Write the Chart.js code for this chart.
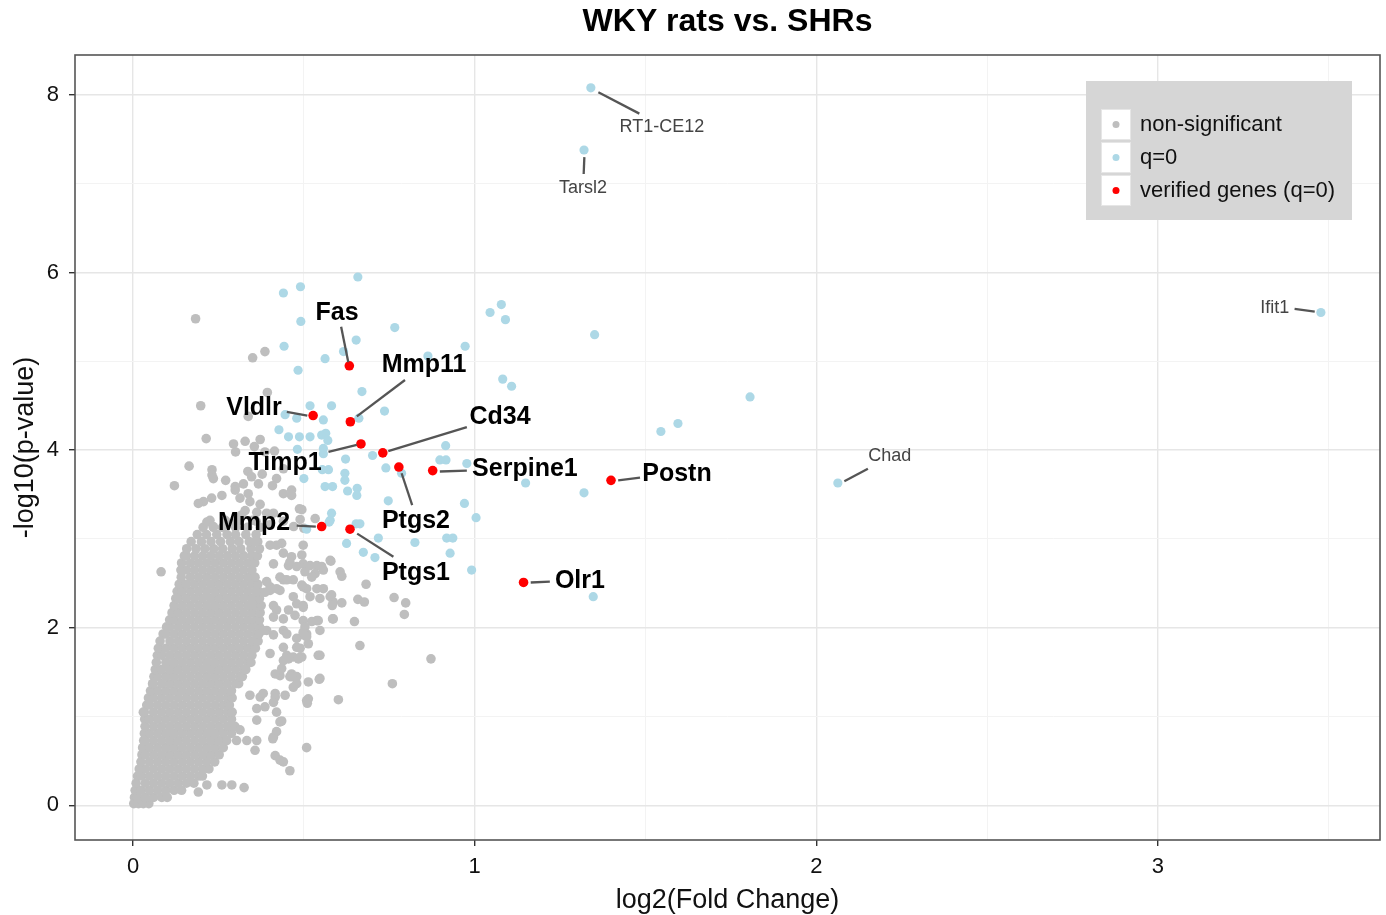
<!DOCTYPE html>
<html>
<head>
<meta charset="utf-8">
<script src="https://cdn.jsdelivr.net/npm/chart.js"></script>
<style>
  body { margin: 0; background: #fff; }
</style>
</head>
<body>
<canvas id="chart" width="1386" height="915"></canvas>
<script>
// ---- data ----
// dense grey core: each row is [y, x, x, x ...]
const nsCoreRows = [
  [0.02, 0.002, 0.016, 0.030, 0.046],
  [0.09, 0.004, 0.012, 0.036, 0.060, 0.084, 0.100],
  [0.17, 0.006, 0.024, 0.048, 0.072, 0.096, 0.120, 0.142],
  [0.25, 0.009, 0.036, 0.060, 0.084, 0.108, 0.132, 0.156, 0.178],
  [0.33, 0.013, 0.024, 0.048, 0.072, 0.096, 0.120, 0.144, 0.168, 0.192, 0.203],
  [0.41, 0.018, 0.036, 0.060, 0.084, 0.108, 0.132, 0.156, 0.180, 0.204, 0.222],
  [0.49, 0.023, 0.048, 0.072, 0.096, 0.120, 0.144, 0.168, 0.192, 0.216, 0.239],
  [0.57, 0.026, 0.036, 0.060, 0.084, 0.108, 0.132, 0.156, 0.180, 0.204, 0.228, 0.252],
  [0.65, 0.028, 0.048, 0.072, 0.096, 0.120, 0.144, 0.168, 0.192, 0.216, 0.240, 0.264],
  [0.73, 0.031, 0.036, 0.060, 0.084, 0.108, 0.132, 0.156, 0.180, 0.204, 0.228, 0.252, 0.274],
  [0.81, 0.033, 0.048, 0.072, 0.096, 0.120, 0.144, 0.168, 0.192, 0.216, 0.240, 0.264, 0.288],
  [0.89, 0.035, 0.060, 0.084, 0.108, 0.132, 0.156, 0.180, 0.204, 0.228, 0.252, 0.276, 0.298],
  [0.97, 0.034, 0.048, 0.072, 0.096, 0.120, 0.144, 0.168, 0.192, 0.216, 0.240, 0.264, 0.288],
  [1.05, 0.033, 0.060, 0.084, 0.108, 0.132, 0.156, 0.180, 0.204, 0.228, 0.252, 0.276, 0.290],
  [1.13, 0.040, 0.048, 0.072, 0.096, 0.120, 0.144, 0.168, 0.192, 0.216, 0.240, 0.264, 0.282],
  [1.21, 0.045, 0.060, 0.084, 0.108, 0.132, 0.156, 0.180, 0.204, 0.228, 0.252, 0.276, 0.290],
  [1.29, 0.051, 0.072, 0.096, 0.120, 0.144, 0.168, 0.192, 0.216, 0.240, 0.264, 0.288],
  [1.37, 0.057, 0.084, 0.108, 0.132, 0.156, 0.180, 0.204, 0.228, 0.252, 0.276, 0.300, 0.309],
  [1.45, 0.061, 0.072, 0.096, 0.120, 0.144, 0.168, 0.192, 0.216, 0.240, 0.264, 0.288, 0.312, 0.320],
  [1.53, 0.065, 0.084, 0.108, 0.132, 0.156, 0.180, 0.204, 0.228, 0.252, 0.276, 0.300, 0.324, 0.330],
  [1.61, 0.068, 0.096, 0.120, 0.144, 0.168, 0.192, 0.216, 0.240, 0.264, 0.288, 0.312, 0.336, 0.345],
  [1.69, 0.071, 0.084, 0.108, 0.132, 0.156, 0.180, 0.204, 0.228, 0.252, 0.276, 0.300, 0.324, 0.348],
  [1.77, 0.074, 0.096, 0.120, 0.144, 0.168, 0.192, 0.216, 0.240, 0.264, 0.288, 0.312, 0.336, 0.358],
  [1.85, 0.079, 0.108, 0.132, 0.156, 0.180, 0.204, 0.228, 0.252, 0.276, 0.300, 0.324, 0.348, 0.366],
  [1.93, 0.088, 0.096, 0.120, 0.144, 0.168, 0.192, 0.216, 0.240, 0.264, 0.288, 0.312, 0.336, 0.360, 0.368],
  [2.01, 0.098, 0.108, 0.132, 0.156, 0.180, 0.204, 0.228, 0.252, 0.276, 0.300, 0.324, 0.348, 0.370],
  [2.09, 0.107, 0.120, 0.144, 0.168, 0.192, 0.216, 0.240, 0.264, 0.288, 0.312, 0.336, 0.360, 0.370],
  [2.17, 0.114, 0.132, 0.156, 0.180, 0.204, 0.228, 0.252, 0.276, 0.300, 0.324, 0.348, 0.372],
  [2.25, 0.120, 0.144, 0.168, 0.192, 0.216, 0.240, 0.264, 0.288, 0.312, 0.336, 0.360, 0.375],
  [2.33, 0.125, 0.132, 0.156, 0.180, 0.204, 0.228, 0.252, 0.276, 0.300, 0.324, 0.348, 0.370],
  [2.41, 0.129, 0.144, 0.168, 0.192, 0.216, 0.240, 0.264, 0.288, 0.312, 0.336, 0.360, 0.368],
  [2.49, 0.135, 0.156, 0.180, 0.204, 0.228, 0.252, 0.276, 0.300, 0.324, 0.348, 0.365],
  [2.57, 0.141, 0.168, 0.192, 0.216, 0.240, 0.264, 0.288, 0.312, 0.336, 0.357],
  [2.65, 0.140, 0.156, 0.180, 0.204, 0.228, 0.252, 0.276, 0.300, 0.324, 0.348],
  [2.73, 0.142, 0.168, 0.192, 0.216, 0.240, 0.264, 0.288, 0.312, 0.336, 0.356],
  [2.81, 0.150, 0.156, 0.180, 0.204, 0.228, 0.252, 0.276, 0.300, 0.324, 0.348, 0.364],
  [2.89, 0.157, 0.184, 0.210, 0.236, 0.262, 0.290, 0.315, 0.345, 0.370],
  [2.97, 0.170, 0.200, 0.228, 0.256, 0.285, 0.310, 0.340, 0.365],
  [3.05, 0.188, 0.215, 0.245, 0.275, 0.300, 0.330, 0.360],
  [3.13, 0.205, 0.235, 0.262, 0.300, 0.335, 0.372],
  [3.21, 0.225, 0.270, 0.310, 0.350]
];

// grey points scattered around the core
const nsScatter = [
  [0.183,5.48],[0.350,5.04],[0.386,5.11],[0.393,4.65],[0.198,4.50],[0.337,4.38],
  [0.214,4.13],[0.294,4.07],[0.328,4.10],[0.372,4.12],[0.355,4.04],[0.300,3.98],[0.386,3.98],[0.414,3.99],
  [0.164,3.82],[0.121,3.60],[0.231,3.78],[0.231,3.72],[0.235,3.68],[0.271,3.66],[0.336,3.76],[0.347,3.70],
  [0.378,3.73],[0.367,3.62],[0.323,3.62],[0.420,3.68],[0.408,3.60],[0.440,3.79],
  [0.299,3.59],[0.299,3.55],[0.313,3.46],[0.260,3.49],[0.230,3.46],[0.206,3.42],[0.191,3.40],[0.337,3.51],
  [0.342,3.42],[0.372,3.39],[0.440,3.51],[0.464,3.55],[0.464,3.49],[0.487,3.34],[0.411,3.29],[0.391,3.29],
  [0.362,3.30],[0.328,3.32],[0.318,3.27],[0.489,3.22],[0.216,3.19],[0.235,3.14],[0.533,3.23],[0.494,3.33],
  [0.270,3.20],[0.300,3.18],[0.360,3.20],[0.400,3.16],[0.440,3.20],[0.470,3.14],[0.500,3.12],
  [0.357,2.97],[0.401,2.93],[0.435,2.95],[0.498,2.93],[0.440,2.84],[0.464,2.80],[0.494,2.82],[0.498,2.72],
  [0.455,2.70],[0.538,2.70],[0.577,2.76],[0.533,2.61],[0.557,2.65],[0.440,2.54],[0.469,2.54],[0.401,2.46],
  [0.386,2.40],[0.430,2.42],[0.498,2.46],[0.538,2.44],[0.518,2.35],[0.547,2.33],[0.577,2.35],[0.586,2.29],
  [0.479,2.27],[0.498,2.25],[0.455,2.20],[0.474,2.14],[0.440,2.10],[0.498,2.08],[0.538,2.08],[0.586,2.10],
  [0.391,1.97],[0.440,1.97],[0.498,1.92],[0.547,1.97],[0.513,1.82],[0.479,1.78],[0.489,1.67],[0.440,1.63],
  [0.464,1.48],[0.430,1.46],[0.542,1.69],[0.513,1.39],[0.469,1.33],[0.372,1.22],
  [0.420,2.93],[0.411,2.72],[0.459,2.74],[0.479,2.69],[0.508,2.69],[0.430,2.57],[0.450,2.54],[0.391,2.52],
  [0.401,2.42],[0.420,2.44],[0.469,2.35],[0.498,2.23],[0.508,2.44],[0.494,2.48],[0.411,2.25],[0.420,2.20],
  [0.411,2.12],[0.450,1.93],[0.479,1.88],[0.489,1.77],[0.508,1.93],[0.440,1.78],[0.411,1.92],[0.381,1.97],
  [0.401,1.71],[0.450,1.69],[0.469,1.67],[0.494,1.67],
  [0.579,2.75],[0.552,2.69],[0.518,2.70],[0.503,2.63],[0.523,2.57],[0.606,2.63],[0.611,2.58],[0.682,2.49],
  [0.557,2.44],[0.581,2.37],[0.583,2.25],[0.658,2.32],[0.677,2.29],[0.611,2.28],[0.764,2.34],[0.798,2.28],
  [0.794,2.15],[0.648,2.07],[0.584,2.10],[0.542,2.08],[0.523,2.07],[0.503,2.01],[0.498,1.95],[0.508,1.90],
  [0.664,1.80],[0.872,1.65],[0.547,1.69],[0.484,1.65],[0.455,1.65],[0.513,1.20],[0.547,1.43],[0.479,1.45],
  [0.459,1.45],[0.416,1.48],[0.416,1.22],[0.082,2.63],[0.059,1.37],[0.030,1.05],
  [0.260,0.23],[0.289,0.23],[0.325,0.20],[0.191,0.15],[0.216,0.23],[0.459,0.39],[0.440,0.49],[0.416,0.56],
  [0.357,0.62],[0.333,0.73],[0.362,0.73],[0.411,0.77],[0.420,0.83],[0.430,0.94],[0.420,1.05],[0.411,1.16],
  [0.416,1.26],[0.445,1.24],[0.508,0.65],[0.508,1.18],[0.479,1.37],[0.464,1.45],[0.435,1.54],[0.362,0.96],
  [0.362,1.09],[0.303,0.73],[0.313,0.85],[0.342,1.24],[0.381,1.26],[0.386,1.11],[0.510,1.15],[0.545,1.42],
  [0.430,0.51],[0.409,0.75],[0.435,0.95],[0.601,1.19],[0.759,1.37]
];

// q = 0 (light blue)
const qZero = [
  [1.340,8.08],[1.320,7.38],[3.477,5.55],[2.063,3.63],[1.806,4.60],[1.545,4.21],[1.595,4.30],[1.351,5.30],
  [1.320,3.52],[1.347,2.35],[1.149,3.63],[1.045,5.55],[1.078,5.64],[1.090,5.47],[1.082,4.80],[1.108,4.72],
  [0.972,5.17],[0.658,5.95],[0.490,5.84],[0.440,5.77],[0.491,5.45],[0.766,5.38],[0.653,5.24],[0.442,5.17],
  [0.616,5.11],[0.562,5.03],[0.863,5.06],[0.483,4.90],[0.670,4.66],[0.518,4.50],[0.581,4.50],[0.736,4.44],
  [0.661,4.36],[0.445,4.40],[0.479,4.36],[0.557,4.34],[0.427,4.23],[0.455,4.15],[0.487,4.15],[0.518,4.15],
  [0.552,4.17],[0.564,4.19],[0.570,4.11],[0.557,4.02],[0.481,4.01],[0.557,3.96],[0.622,3.90],[0.701,3.94],
  [0.740,3.80],[0.786,3.74],[0.915,4.05],[0.898,3.89],[0.916,3.89],[0.977,3.85],[0.554,3.78],[0.572,3.78],
  [0.500,3.68],[0.620,3.74],[0.620,3.66],[0.562,3.59],[0.584,3.59],[0.656,3.57],[0.655,3.49],[0.628,3.54],
  [0.747,3.43],[0.970,3.40],[1.004,3.24],[0.581,3.29],[0.577,3.21],[0.508,3.11],[0.653,3.17],[0.664,3.17],
  [0.574,3.19],[0.625,2.95],[0.718,3.01],[0.825,2.96],[0.918,3.01],[0.936,3.01],[0.928,2.84],[0.674,2.85],
  [0.708,2.79],[0.991,2.65]
];

// verified genes (q = 0), red
const verifiedNames = ['Fas', 'Mmp11', 'Vldlr', 'Timp1', 'Cd34', 'Ptgs2', 'Serpine1', 'Mmp2', 'Ptgs1', 'Postn', 'Olr1'];
const verifiedX = [0.633, 0.636, 0.527, 0.667, 0.731, 0.778, 0.877, 0.552, 0.635, 1.399, 1.143];
const verifiedY = [4.95, 4.32, 4.39, 4.07, 3.97, 3.81, 3.77, 3.14, 3.11, 3.66, 2.51];

const xTickLabels = [0, 1, 2, 3];
const yTickLabels = [0, 2, 4, 6, 8];
const legendLabels = ['non-significant', 'q=0', 'verified genes (q=0)'];

// repelled labels: text centre and connector, in data units
const labelSpots = [
  {text: 'Fas',      at: [0.597, 5.54], seg: [[0.609, 5.39], [0.630, 4.99]], big: true},
  {text: 'Mmp11',    at: [0.852, 4.96], seg: [[0.796, 4.79], [0.655, 4.38]], big: true},
  {text: 'Vldlr',    at: [0.354, 4.47], seg: [[0.450, 4.43], [0.510, 4.39]], big: true},
  {text: 'Cd34',     at: [1.074, 4.37], seg: [[0.977, 4.26], [0.747, 3.99]], big: true},
  {text: 'Timp1',    at: [0.445, 3.85], seg: [[0.572, 3.98], [0.655, 4.06]], big: true},
  {text: 'Serpine1', at: [1.147, 3.79], seg: [[0.898, 3.76], [0.977, 3.77]], big: true},
  {text: 'Ptgs2',    at: [0.828, 3.20], seg: [[0.786, 3.74], [0.817, 3.38]], big: true},
  {text: 'Mmp2',     at: [0.354, 3.18], seg: [[0.479, 3.15], [0.535, 3.14]], big: true},
  {text: 'Ptgs1',    at: [0.828, 2.61], seg: [[0.656, 3.06], [0.762, 2.80]], big: true},
  {text: 'Postn',    at: [1.592, 3.73], seg: [[1.420, 3.66], [1.484, 3.69]], big: true},
  {text: 'Olr1',     at: [1.308, 2.52], seg: [[1.164, 2.51], [1.220, 2.52]], big: true},
  {text: 'RT1-CE12', at: [1.548, 7.64], seg: [[1.362, 8.03], [1.482, 7.79]]},
  {text: 'Tarsl2',   at: [1.317, 6.95], seg: [[1.321, 7.30], [1.319, 7.11]]},
  {text: 'Ifit1',    at: [3.342, 5.60], seg: [[3.400, 5.59], [3.459, 5.56]]},
  {text: 'Chad',     at: [2.215, 3.93], seg: [[2.082, 3.65], [2.151, 3.79]]}
];

// ---- build datasets ----
const greyPts = [];
nsCoreRows.forEach(function(row) {
  for (let i = 1; i < row.length; i++) greyPts.push({x: row[i], y: row[0]});
});
nsScatter.forEach(function(p) { greyPts.push({x: p[0], y: p[1]}); });
const bluePts = qZero.map(function(p) { return {x: p[0], y: p[1]}; });
const redPts = verifiedX.map(function(x, i) { return {x: x, y: verifiedY[i]}; });

const FONT = "'Liberation Sans', Arial, sans-serif";
const GREY = '#BEBEBE', BLUE = '#ADD8E6', RED = '#FF0000';

const decorPlugin = {
  id: 'decor',
  afterDatasetsDraw(chart) {
    const ctx = chart.ctx, xs = chart.scales.x, ys = chart.scales.y, a = chart.chartArea;
    ctx.save();
    // connectors
    ctx.strokeStyle = '#555';
    ctx.lineWidth = 2.3;
    labelSpots.forEach(function(l) {
      ctx.beginPath();
      ctx.moveTo(xs.getPixelForValue(l.seg[0][0]), ys.getPixelForValue(l.seg[0][1]));
      ctx.lineTo(xs.getPixelForValue(l.seg[1][0]), ys.getPixelForValue(l.seg[1][1]));
      ctx.stroke();
    });
    // label text
    ctx.textAlign = 'center';
    ctx.textBaseline = 'middle';
    labelSpots.forEach(function(l) {
      if (l.big) { ctx.font = 'bold 25px ' + FONT; ctx.fillStyle = '#000'; }
      else { ctx.font = '18px ' + FONT; ctx.fillStyle = '#444'; }
      ctx.fillText(l.text, xs.getPixelForValue(l.at[0]), ys.getPixelForValue(l.at[1]));
    });

    // legend
    ctx.fillStyle = '#D6D6D6';
    ctx.fillRect(1086, 81, 266, 139);
    const keyCols = [GREY, BLUE, RED];
    const keyTop = [109, 142, 175];
    ctx.font = '22px ' + FONT;
    ctx.textAlign = 'left';
    keyTop.forEach(function(t, i) {
      ctx.fillStyle = '#fff';
      ctx.fillRect(1101, t, 30, 31);
      ctx.strokeStyle = '#E6E6E6';
      ctx.lineWidth = 1;
      ctx.strokeRect(1101.5, t + 0.5, 29, 30);
      ctx.fillStyle = keyCols[i];
      ctx.beginPath();
      ctx.arc(1116, t + 15.5, 3.5, 0, Math.PI * 2);
      ctx.fill();
      ctx.fillStyle = '#111';
      ctx.fillText(legendLabels[i], 1140, t + 16);
    });

    // panel border
    ctx.strokeStyle = '#555';
    ctx.lineWidth = 1.6;
    ctx.strokeRect(a.left, a.top, a.right - a.left, a.bottom - a.top);
    ctx.restore();
  },
  afterDraw(chart) {
    const ctx = chart.ctx, a = chart.chartArea;
    ctx.save();
    ctx.font = 'bold 32px ' + FONT;
    ctx.fillStyle = '#000';
    ctx.textAlign = 'center';
    ctx.textBaseline = 'middle';
    ctx.fillText('WKY rats vs. SHRs', (a.left + a.right) / 2, 22);
    ctx.restore();
  }
};

function isMajor(v, list) { return list.indexOf(v) !== -1; }

new Chart(document.getElementById('chart'), {
  type: 'scatter',
  data: {
    datasets: [
      {label: legendLabels[0], data: greyPts, backgroundColor: GREY, pointRadius: 4.8, borderWidth: 0, order: 3},
      {label: legendLabels[1], data: bluePts, backgroundColor: BLUE, pointRadius: 4.6, borderWidth: 0, order: 2},
      {label: legendLabels[2], data: redPts, backgroundColor: RED, pointRadius: 4.8, borderWidth: 0, order: 1}
    ]
  },
  options: {
    responsive: false,
    animation: false,
    events: [],
    layout: {padding: {top: 55, right: 6, left: 0, bottom: 0}},
    plugins: {legend: {display: false}, title: {display: false}, tooltip: {enabled: false}},
    scales: {
      x: {
        type: 'linear', min: -0.17, max: 3.65,
        afterFit: function(s) { s.height = 75; },
        border: {display: false},
        grid: {
          color: function(c) { return Number.isInteger(c.tick.value) ? '#E6E6E6' : '#F3F3F3'; },
          lineWidth: function(c) { return Number.isInteger(c.tick.value) ? 1.4 : 1; },
          tickColor: function(c) { return isMajor(c.tick.value, xTickLabels) ? '#333' : 'rgba(0,0,0,0)'; },
          tickLength: 6, drawTicks: true
        },
        ticks: {
          stepSize: 0.5, includeBounds: false, autoSkip: false, maxRotation: 0, padding: 8,
          color: '#111', font: {family: FONT, size: 22},
          callback: function(v) { return isMajor(v, xTickLabels) ? String(v) : ''; }
        },
        title: {display: true, text: 'log2(Fold Change)', color: '#111', font: {family: FONT, size: 27}, padding: {top: 0, bottom: -2}}
      },
      y: {
        type: 'linear', min: -0.39, max: 8.45,
        afterFit: function(s) { s.width = 75; },
        border: {display: false},
        grid: {
          color: function(c) { return c.tick.value % 2 === 0 ? '#E6E6E6' : '#F3F3F3'; },
          lineWidth: function(c) { return c.tick.value % 2 === 0 ? 1.4 : 1; },
          tickColor: function(c) { return isMajor(c.tick.value, yTickLabels) ? '#333' : 'rgba(0,0,0,0)'; },
          tickLength: 6, drawTicks: true
        },
        ticks: {
          stepSize: 1, includeBounds: false, autoSkip: false, padding: 10,
          color: '#111', font: {family: FONT, size: 22},
          callback: function(v) { return isMajor(v, yTickLabels) ? String(v) : ''; }
        },
        title: {display: true, text: '-log10(p-value)', color: '#111', font: {family: FONT, size: 27}, padding: {top: 9, bottom: 0}}
      }
    }
  },
  plugins: [decorPlugin]
});
</script>
</body>
</html>
